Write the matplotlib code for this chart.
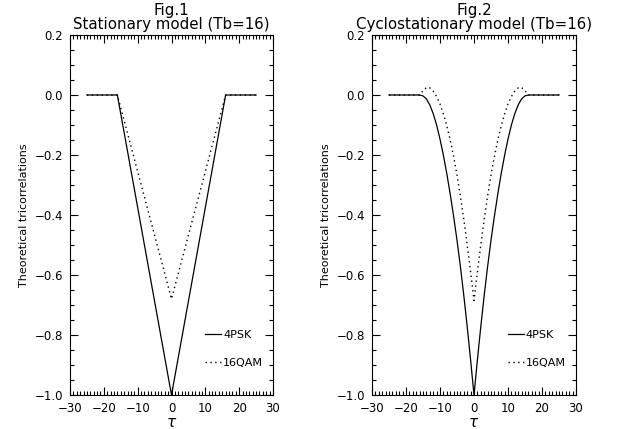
import matplotlib
matplotlib.use("Agg")
import matplotlib.pyplot as plt
from matplotlib.ticker import MultipleLocator

plt.rcParams["font.family"] = ["DejaVu Sans"]

# Fig.1 - stationary model (piecewise linear)
tau_stat = [-25, -16, 0, 16, 25]
psk_stat = [0.0, 0.0, -1.0, 0.0, 0.0]
qam_stat = [0.0, 0.0, -0.68, 0.0, 0.0]

# Fig.2 - cyclostationary model
tau_cyc = [-25, -16, -15, -14, -13, -12, -11, -10, -9, -8, -7, -6, -5, -4, -3, -2, -1,
           0, 1, 2, 3, 4, 5, 6, 7, 8, 9, 10, 11, 12, 13, 14, 15, 16, 25]
psk_cyc = [0.0, 0.0, -0.003, -0.013, -0.033, -0.062, -0.100, -0.147, -0.201, -0.262,
           -0.330, -0.404, -0.484, -0.572, -0.668, -0.772, -0.883,
           -1.0,
           -0.883, -0.772, -0.668, -0.572, -0.484, -0.404, -0.330, -0.262, -0.201,
           -0.147, -0.100, -0.062, -0.033, -0.013, -0.003, 0.0, 0.0]
qam_cyc = [0.0, 0.0, 0.014, 0.025, 0.024, 0.013, -0.005, -0.030, -0.063, -0.103,
           -0.150, -0.205, -0.267, -0.337, -0.415, -0.50, -0.59,
           -0.685,
           -0.59, -0.50, -0.415, -0.337, -0.267, -0.205, -0.150, -0.103, -0.063,
           -0.030, -0.005, 0.013, 0.024, 0.025, 0.014, 0.0, 0.0]

titles = ["Fig.1\nStationary model (Tb=16)", "Fig.2\nCyclostationary model (Tb=16)"]
labels = ["4PSK", "16QAM"]

fig = plt.figure(figsize=(6.19, 4.29), dpi=100)
ax1 = fig.add_axes([70 / 619, 1 - 395 / 429, 203 / 619, 360 / 429])
ax2 = fig.add_axes([372 / 619, 1 - 395 / 429, 204 / 619, 360 / 429])

panels = [(ax1, tau_stat, psk_stat, qam_stat), (ax2, tau_cyc, psk_cyc, qam_cyc)]
for (ax, t, a, b), title in zip(panels, titles):
    ax.plot(t, a, color="black", lw=0.9, label=labels[0])
    ax.plot(t, b, color="black", lw=1.0, ls=(0, (1, 2.5)), label=labels[1])
    ax.set_xlim(-30, 30)
    ax.set_ylim(-1.0, 0.2)
    ax.xaxis.set_major_locator(MultipleLocator(10))
    ax.xaxis.set_minor_locator(MultipleLocator(1))
    ax.yaxis.set_major_locator(MultipleLocator(0.2))
    ax.yaxis.set_minor_locator(MultipleLocator(0.05))
    ax.tick_params(which="both", direction="in", top=True, right=True,
                   width=0.8, labelsize=8.5, pad=5)
    ax.tick_params(which="major", length=6)
    ax.tick_params(which="minor", length=3)
    ax.yaxis.set_major_formatter(plt.FuncFormatter(
        lambda v, p: ("%.1f" % v).replace("-", "\u2212")))
    ax.xaxis.set_major_formatter(plt.FuncFormatter(
        lambda v, p: ("%d" % v).replace("-", "\u2212")))
    for s in ax.spines.values():
        s.set_linewidth(0.8)
    ax.set_title(title, fontsize=10.8, linespacing=0.95, pad=4)
    ax.set_ylabel("Theoretical tricorrelations", fontsize=8)
    ax.set_xlabel(r"$\tau$", fontsize=11, labelpad=0)
    ax.legend(loc="lower left", bbox_to_anchor=(0.64, 0.06), frameon=False,
              fontsize=8, handlelength=1.4, handletextpad=0.2,
              labelspacing=1.6, borderpad=0)

fig.savefig("out.png", dpi=100)
